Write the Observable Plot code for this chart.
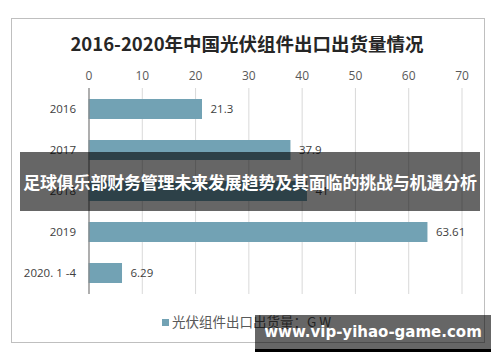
<!DOCTYPE html>
<html><head><meta charset="utf-8">
<script src="https://cdn.jsdelivr.net/npm/d3@7"></script>
<script src="https://cdn.jsdelivr.net/npm/@observablehq/plot@0.6"></script>
<style>
body{margin:0;background:#fff;}
#wrap{position:relative;width:500px;height:362px;overflow:hidden;font-family:"Noto Sans CJK SC",sans-serif;}
#frame{position:absolute;left:11px;top:18px;width:472px;height:323px;border:1px solid #bfbfbf;}
#title{position:absolute;left:0;width:494px;top:30px;text-align:center;font-size:18.5px;font-weight:bold;color:#262626;line-height:26px;}
#chart{position:absolute;left:0;top:0;}
#legend{position:absolute;left:162px;top:311px;font-size:13.5px;color:#595959;line-height:20px;white-space:nowrap;}
#legend span.sw{display:inline-block;width:7px;height:7px;background:#72a2b4;margin-right:3px;vertical-align:1px;}
#banner{position:absolute;left:20px;top:152px;width:460px;height:59px;background:rgba(0,0,0,0.6);color:#fff;font-weight:bold;font-size:17px;line-height:59px;text-align:center;white-space:nowrap;letter-spacing:-0.2px;}
#wm{position:absolute;left:255px;top:315px;width:236px;height:37px;background:rgba(0,0,0,0.6);border-bottom:3px solid #000;box-sizing:border-box;color:#fff;font-family:"DejaVu Sans",sans-serif;font-weight:bold;font-size:15px;line-height:34px;text-align:center;white-space:nowrap;}
</style></head>
<body>
<div id="wrap">
  <div id="frame"></div>
  <div id="title">2016-2020年中国光伏组件出口出货量情况</div>
  <div id="chart"></div>
  <div id="legend"><span class="sw"></span>光伏组件出口出货量：G W</div>
  <div id="banner">足球俱乐部财务管理未来发展趋势及其面临的挑战与机遇分析</div>
  <div id="wm">www.vip-yihao-game.com</div>
</div>
<script>
const categories = ["2016", "2017", "2018", "2019", "2020. 1 -4"];
const values = [21.3, 37.9, 41, 63.61, 6.29];
const valueLabels = ["21.3", "37.9", "41", "63.61", "6.29"];
const xTicks = [0, 10, 20, 30, 40, 50, 60, 70];

const data = categories.map((c, i) => ({cat: c, value: values[i], label: valueLabels[i]}));

const chart = Plot.plot({
  width: 500,
  height: 362,
  marginTop: 88,
  marginBottom: 68,
  marginLeft: 88.5,
  marginRight: 38.5,
  style: {fontFamily: "'Open Sans', 'Noto Sans CJK SC', sans-serif", fontSize: "12px", color: "#595959", background: "transparent", overflow: "visible"},
  x: {domain: [0, 70], label: null},
  y: {domain: categories, paddingInner: 0.51, paddingOuter: 0.255, label: null},
  marks: [
    Plot.gridX(xTicks, {stroke: "#d9d9d9", strokeOpacity: 1}),
    Plot.axisX(xTicks, {anchor: "top", tickSize: 0, tickPadding: 9, label: null, fontSize: 12, fill: "#595959"}),
    Plot.barX(data, {x: "value", y: "cat", fill: "#72a2b4"}),
    Plot.ruleX([0], {stroke: "#868686", strokeWidth: 1.2}),
    Plot.text(data, {x: "value", y: "cat", text: "label", dx: 8, textAnchor: "start", fontSize: 11.5, fill: "#404040"}),
    Plot.axisY({tickSize: 0, tickPadding: 13, label: null, fontSize: 11.5, fill: "#404040"})
  ]
});
document.getElementById("chart").appendChild(chart);
</script>
</body></html>
